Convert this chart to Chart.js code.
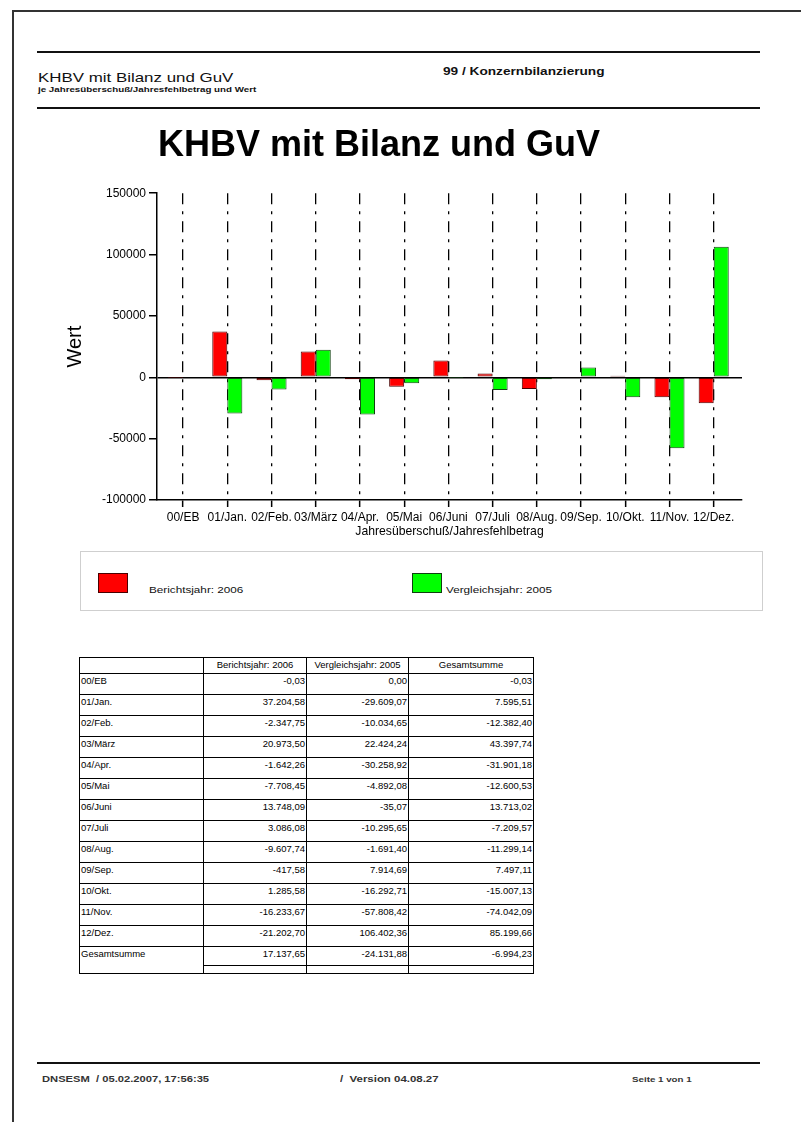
<!DOCTYPE html>
<html>
<head>
<meta charset="utf-8">
<script src="https://cdn.jsdelivr.net/npm/chart.js@4.4.1/dist/chart.umd.min.js"></script>
<style>
body { margin: 0; background: #fff; font-family: 'Liberation Sans', Arial, sans-serif; color: #111; }
#page { position: relative; width: 801px; height: 1122px; overflow: hidden; background: #fff; }
.abs { position: absolute; white-space: nowrap; }
.sx { transform: scaleX(1.3); transform-origin: 0 0; }
.rule { position: absolute; left: 37px; width: 723px; height: 2px; background: #111; }
#chartBox { position: absolute; left: 16px; top: 115px; width: 784px; height: 426px; }
#legendBox { position: absolute; left: 80px; top: 551px; width: 681px; height: 58px; border: 1px solid #cfcfcf; }
.swatch { position: absolute; width: 30px; height: 20px; box-sizing: border-box; border: 1px solid #333; }
.legText { position: absolute; font-size: 9px; line-height: 9px; }
#dataTable { position: absolute; left: 79px; top: 657px; width: 454px; border-collapse: collapse; table-layout: fixed; font-size: 9.5px; color: #000; }
#dataTable td { border: 1.5px solid #000; padding: 2px 1px 0 1px; vertical-align: top; line-height: 10px; overflow: hidden; white-space: nowrap; }
#dataTable td.num { text-align: right; }
#dataTable tr.head td { text-align: center; height: 13px; }
#dataTable tr.row td { height: 18px; }
#dataTable tr.sum td { height: 16px; }
#dataTable tr.tail td { height: 7px; padding: 0; }
</style>
</head>
<body>
<div id="page">
  <!-- page frame -->
  <div class="abs" style="left:12px;top:10px;width:1.5px;height:1112px;background:#333"></div>
  <div class="abs" style="left:12px;top:10px;width:789px;height:1.5px;background:#333"></div>

  <!-- header -->
  <div class="rule" style="top:51px"></div>
  <div class="abs sx" style="left:38px;top:71px;font-size:13px;line-height:13px">KHBV mit Bilanz und GuV</div>
  <div class="abs sx" style="left:38px;top:86px;font-size:7.5px;line-height:8px;font-weight:bold">je Jahresüberschuß/Jahresfehlbetrag und Wert</div>
  <div class="abs sx" style="left:443px;top:66px;font-size:10.5px;line-height:11px;font-weight:bold">99 / Konzernbilanzierung</div>
  <div class="rule" style="top:107px"></div>

  <div id="chartBox"><canvas id="chartKhbv"></canvas></div>

  <div id="legendBox"></div>

  <table id="dataTable"></table>

  <!-- footer -->
  <div class="rule" style="top:1062px"></div>
  <div class="abs sx" style="left:42px;top:1075px;font-size:8.6px;line-height:9px;font-weight:bold;color:#333">DNSESM &nbsp;/ 05.02.2007, 17:56:35</div>
  <div class="abs sx" style="left:340px;top:1075px;font-size:8.8px;line-height:9px;font-weight:bold;color:#333">/ &nbsp;Version 04.08.27</div>
  <div class="abs sx" style="left:632px;top:1075px;font-size:7.5px;line-height:9px;font-weight:bold;color:#333">Seite 1 von 1</div>
</div>

<script>
const xLabels = ['00/EB', '01/Jan.', '02/Feb.', '03/März', '04/Apr.', '05/Mai', '06/Juni', '07/Juli', '08/Aug.', '09/Sep.', '10/Okt.', '11/Nov.', '12/Dez.'];
const tableLabels = ['00/EB', '01/Jan.', '02/Feb.', '03/März', '04/Apr.', '05/Mai', '06/Juni', '07/Juli', '08/Aug.', '09/Sep.', '10/Okt.', '11/Nov.', '12/Dez.'];
const seriesNames = ['Berichtsjahr: 2006', 'Vergleichsjahr: 2005'];
const bericht2006 = [-0.03, 37204.58, -2347.75, 20973.50, -1642.26, -7708.45, 13748.09, 3086.08, -9607.74, -417.58, 1285.58, -16233.67, -21202.70];
const vergleich2005 = [0.00, -29609.07, -10034.65, 22424.24, -30258.92, -4892.08, -35.07, -10295.65, -1691.40, 7914.69, -16292.71, -57808.42, 106402.36];
const gesamtsumme = [-0.03, 7595.51, -12382.40, 43397.74, -31901.18, -12600.53, 13713.02, -7209.57, -11299.14, 7497.11, -15007.13, -74042.09, 85199.66];
const totalsRow = [17137.65, -24131.88, -6994.23];
const yTicks = [-100000, -50000, 0, 50000, 100000, 150000];
const barColors = ['#ff0000', '#00ff00'];
const barBorders = ['#4a0000', '#104010'];

const chartTitle = 'KHBV mit Bilanz und GuV';
const xTitle = 'Jahresüberschuß/Jahresfehlbetrag';
const yTitle = 'Wert';

const FONT = "'Liberation Sans', Arial, sans-serif";
Chart.defaults.font.family = FONT;
Chart.defaults.color = '#000';

// german number format, e.g. -12.382,40
function fmt(v) {
    const neg = v < 0;
    let [i, d] = Math.abs(v).toFixed(2).split('.');
    i = i.replace(/\B(?=(\d{3})+(?!\d))/g, '.');
    return (neg ? '-' : '') + i + ',' + d;
}

const ctx = document.getElementById('chartKhbv');
const chartKhbv = new Chart(ctx, {
    type: 'bar',
    data: {
        datasets: [
            {
                label: seriesNames[0],
                data: bericht2006.map((v, i) => ({x: i, y: v})),
                backgroundColor: barColors[0],
                borderColor: barBorders[0],
                borderWidth: 1,
                borderSkipped: false
            },
            {
                label: seriesNames[1],
                data: vergleich2005.map((v, i) => ({x: i, y: v})),
                backgroundColor: barColors[1],
                borderColor: barBorders[1],
                borderWidth: 1,
                borderSkipped: false
            }
        ]
    },
    options: {
        responsive: true,
        maintainAspectRatio: false,
        animation: false,
        categoryPercentage: 0.68,
        barPercentage: 1,
        layout: { padding: { left: 0, right: 58, top: 0, bottom: 0 } },
        plugins: {
            legend: { display: false },
            tooltip: { enabled: false },
            title: {
                display: true,
                text: chartTitle,
                color: '#000',
                font: { size: 36, weight: 'bold' },
                padding: { top: 9, bottom: 26 }
            }
        },
        scales: {
            x: {
                type: 'linear',
                offset: false,
                min: -0.59,
                max: 12.64,
                // one tick per month, at the bar group centres
                afterBuildTicks: scale => { scale.ticks = xLabels.map((_, i) => ({value: i})); },
                afterFit: scale => { scale.height = 41; },
                ticks: {
                    callback: v => xLabels[v],
                    autoSkip: false,
                    maxRotation: 0,
                    font: { size: 12 },
                    padding: 3
                },
                grid: { offset: false, color: '#000', lineWidth: 1.3, tickLength: 7, tickColor: '#000', tickWidth: 1.5 },
                border: { display: true, color: '#000', width: 1.5, dash: [11, 7, 3, 7] },
                title: { display: true, text: xTitle, font: { size: 12.2 }, padding: { top: 0, bottom: 2 } }
            },
            y: {
                min: yTicks[0],
                max: yTicks[yTicks.length - 1],
                afterBuildTicks: scale => { scale.ticks = yTicks.map(v => ({value: v})); },
                afterFit: scale => { scale.width = 141; },
                ticks: { callback: v => String(v), font: { size: 12 }, padding: 3 },
                grid: {
                    color: c => (c.tick && c.tick.value === 0) ? '#000' : 'rgba(0,0,0,0)',
                    lineWidth: 1.5,
                    tickLength: 8,
                    tickColor: '#000',
                    tickWidth: 1.5
                },
                border: { display: true, color: '#000', width: 1.5 },
                title: { display: true, text: yTitle, font: { size: 20 }, padding: { top: 47, bottom: 0 } }
            }
        }
    }
});

// legend box below the chart
const legendBox = document.getElementById('legendBox');
const swatchLeft = [17, 331];
const textLeft = [68, 365];
seriesNames.forEach((name, k) => {
    const sw = document.createElement('div');
    sw.className = 'swatch';
    sw.style.left = swatchLeft[k] + 'px';
    sw.style.top = '21px';
    sw.style.background = barColors[k];
    sw.style.borderColor = barBorders[k];
    legendBox.appendChild(sw);
    const t = document.createElement('div');
    t.className = 'legText sx';
    t.style.left = textLeft[k] + 'px';
    t.style.top = '34px';
    t.textContent = name;
    legendBox.appendChild(t);
});

// data table
const tbl = document.getElementById('dataTable');
let html = '<colgroup><col style="width:124px"><col style="width:103px"><col style="width:102px"><col style="width:125px"></colgroup>';
html += '<tr class="head"><td></td><td>' + seriesNames[0] + '</td><td>' + seriesNames[1] + '</td><td>Gesamtsumme</td></tr>';
tableLabels.forEach((lab, i) => {
    html += '<tr class="row"><td>' + lab + '</td><td class="num">' + fmt(bericht2006[i]) + '</td><td class="num">' +
        fmt(vergleich2005[i]) + '</td><td class="num">' + fmt(gesamtsumme[i]) + '</td></tr>';
});
html += '<tr class="sum"><td rowspan="2">Gesamtsumme</td>' + totalsRow.map(v => '<td class="num">' + fmt(v) + '</td>').join('') + '</tr>';
html += '<tr class="tail"><td></td><td></td><td></td></tr>';
tbl.innerHTML = html;
</script>
</body>
</html>
